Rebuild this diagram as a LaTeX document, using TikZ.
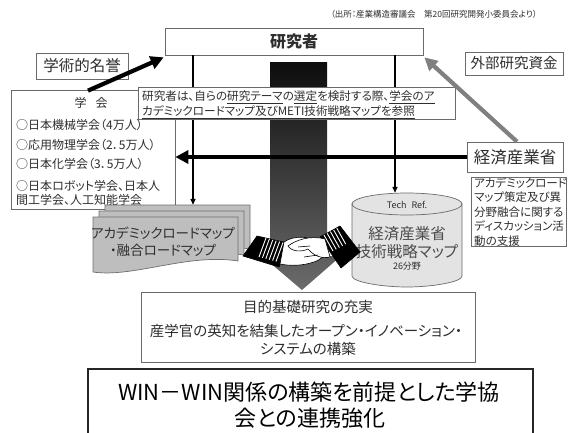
\documentclass[tikz,border=0pt]{standalone}
\usepackage{fontspec}
\setmainfont{Noto Sans CJK JP}[RawFeature={+palt}]
\usetikzlibrary{arrows.meta,calc}
\definecolor{ink}{HTML}{2E2E2E}
\definecolor{frame}{HTML}{6A6A6A}
\definecolor{sheet}{HTML}{BEBEBE}
\definecolor{sheetedge}{HTML}{6E6E6E}
\definecolor{drum}{HTML}{E3E3E3}
\definecolor{steel}{HTML}{808080}
% one sheet of the roadmap stack, top-left corner given
\newcommand\roadmapsheet[2]{%
  \filldraw[sheetstyle] (#1,#2) -- ++(145,0) -- ++(0,44)
    .. controls +(-50,-8) and +(40,6) .. ++(-145,11) -- cycle;}
\begin{document}
\begin{tikzpicture}[x=1pt,y=-1pt,
  box/.style={draw=frame, fill=white, line width=0.7pt, inner sep=0pt},
  txt/.style={inner sep=0pt, text=ink},
  sheetstyle/.style={fill=sheet, draw=sheetedge, line width=0.7pt},
  feed/.style={draw=black, line width=1.4pt, -{Triangle[length=6pt,width=5pt]}},
  heavy/.style={line width=4.2pt, -{Triangle[length=13pt,width=13pt]}},
]
\useasboundingbox (0,0) rectangle (571,432);
\clip (0,0) rectangle (571,432);

% source line
\node[txt, font=\fontsize{8.5}{10}\selectfont] (src) at (434,14)
  {（出所：産業構造審議会　第20回研究開発小委員会より）};

% shaded downward arrow in the middle
\shade[top color=black!95, bottom color=black!58]
  (270,62) -- (327,62) -- (327,256) -- (341,256) -- (302,290)
  -- (262,256) -- (270,256) -- cycle;

% researcher
\node[box, minimum width=258, minimum height=27, font=\fontsize{16}{18}\selectfont\bfseries, text=ink]
  (res) at (294,41.5) {研究者};

% helper nodes for the roadmap stack and the map drum
\node[minimum width=157, minimum height=67, inner sep=0pt] (rm) at (171.5,238.5) {};
\node[minimum width=110, minimum height=94, inner sep=0pt] (cyl) at (407,240) {};

\coordinate (tapL) at (res.south -| 193,0);
\coordinate (tapR) at (res.south -| 395,0);
\draw[feed] (tapL) -- (tapL |- rm.north);
\draw[feed] (tapR) -- (tapR |- cyl.north);

% academic societies
\node[box, minimum width=164, minimum height=119] (soc) at (93,149.5) {};
\node[txt, font=\fontsize{12}{14}\selectfont] (socT) at (91,103) {学\hspace{9pt}会};
\node[txt, anchor=west, font=\fontsize{12}{14}\selectfont] (soc1) at (16,125) {○日本機械学会（4万人）};
\node[txt, anchor=west, font=\fontsize{12}{14}\selectfont] (soc2) at (16,144.5) {○応用物理学会（2．5万人）};
\node[txt, anchor=west, font=\fontsize{12}{14}\selectfont] (soc3) at (16,164) {○日本化学会（3．5万人）};
\node[txt, anchor=west, font=\fontsize{12}{14}\selectfont] (soc4) at (16,186) {○日本ロボット学会、日本人};
\node[txt, anchor=west, font=\fontsize{12}{14}\selectfont] (soc5) at (16,200) {間工学会、人工知能学会};

% note about referencing the maps
\node[box, minimum width=317, minimum height=32] (note) at (296.5,103) {};
\node[txt, anchor=west, font=\fontsize{11.6}{13}\selectfont] (noteA) at (142,97)
  {研究者は、自らの\underline{研究テーマ}の\underline{選定}を検討する際、\underline{学会のア}};
\node[txt, anchor=west, font=\fontsize{11.6}{13}\selectfont] (noteB) at (142,112)
  {\underline{カデミックロードマップ及びMETI技術戦略マップを参照}};

% roadmap stack
\roadmapsheet{105}{205}
\roadmapsheet{99}{211}
\roadmapsheet{93}{217}
\node[txt, font=\fontsize{13.5}{15}\selectfont] (rm1) at (163,233) {アカデミックロードマップ};
\node[txt, font=\fontsize{13.5}{15}\selectfont] (rm2) at (163,250) {・融合ロードマップ};

% technology strategy map drum
\filldraw[fill=drum, draw=frame, line width=0.7pt]
  (352,204) -- (352,276) .. controls (352,282.1) and (382.4,287) .. (407,287)
  .. controls (431.6,287) and (462,282.1) .. (462,276) -- (462,204) -- cycle;
\filldraw[fill=drum, draw=frame, line width=0.7pt] (407,204) ellipse [x radius=55pt, y radius=11pt];
\node[txt, font=\fontsize{9}{10}\selectfont] (cylT) at (407,204.5) {Tech\hspace{5pt}Ref.};
\node[txt, font=\fontsize{15.5}{17}\selectfont, text=black!70] (cyl1) at (407,234) {経済産業省};
\node[txt, font=\fontsize{15.5}{17}\selectfont, text=black!70] (cyl2) at (407,252) {技術戦略マップ};
\node[txt, font=\fontsize{9}{10}\selectfont] (cyl3) at (407,266) {26分野};

% ministry, funding and honour
\node[box, minimum width=96, minimum height=30, font=\fontsize{16.5}{18}\selectfont, text=ink]
  (meti) at (515,157) {経済産業省};
\node[box, minimum width=98, minimum height=23, font=\fontsize{14.5}{16}\selectfont, text=ink]
  (fund) at (514,63.5) {外部研究資金};
\node[box, minimum width=92, minimum height=26, font=\fontsize{15.5}{17}\selectfont, text=ink]
  (honor) at (82,66) {学術的名誉};

\draw[heavy, black] (meti.west) -- (meti.west -| soc.east);
\draw[heavy, black] ($(soc.north)+(-5,1)$) -- ($(res.south west)+(-1,2)$);
\draw[heavy, steel] ($(meti.north)+(2,0)$) -- ($(res.south east)+(1,2)$);

% support note on the right
\node[box, minimum width=95, minimum height=69] (aid) at (518.5,211.5) {};
\node[txt, anchor=west, font=\fontsize{11.5}{13}\selectfont] (aid1) at (474,183) {アカデミックロード};
\node[txt, anchor=west, font=\fontsize{11.5}{13}\selectfont] (aid2) at (474,197.5) {マップ策定及び異};
\node[txt, anchor=west, font=\fontsize{11.5}{13}\selectfont] (aid3) at (474,212) {分野融合に関する};
\node[txt, anchor=west, font=\fontsize{11.5}{13}\selectfont] (aid4) at (474,226.5) {ディスカッション活};
\node[txt, anchor=west, font=\fontsize{11.5}{13}\selectfont] (aid5) at (474,241) {動の支援};

% handshake: two dark sleeves with striped cuffs, white hands clasped
\begin{scope}[line width=0.6pt, line join=round]
  \filldraw[fill=black, draw=black] (243,256) -- (257,236) -- (288,243) -- (279,267) -- cycle;
  \foreach \k in {0,...,5}
    \draw[white, line width=0.9pt] ($(266,238)+(\k*3.4,0.9*\k)$) -- ++(-7,19);
  \filldraw[fill=white, draw=black] (284,242) .. controls (294,235) and (310,236) .. (322,243)
    .. controls (330,248) and (326,258) .. (314,262)
    .. controls (302,266) and (290,266) .. (280,264) -- cycle;
  \filldraw[fill=black, draw=black] (320,237) -- (340,226) -- (360,252) -- (341,268) -- cycle;
  \foreach \k in {0,...,4}
    \draw[white, line width=0.9pt] ($(324,235)+(\k*3.2,-1.7*\k)$) -- ++(9,16);
  \filldraw[fill=white, draw=black] (325,239) .. controls (310,235) and (296,240) .. (288,246)
    .. controls (292,252) and (302,252) .. (308,249)
    .. controls (314,256) and (322,259) .. (330,257) -- cycle;
  \draw (298,247) -- (310,246);
  \draw (304,257) -- (318,255);
\end{scope}

% outcome
\node[box, minimum width=334, minimum height=70] (goal) at (308,327) {};
\node[txt, font=\fontsize{14.5}{16}\selectfont] (goal1) at (308,307) {目的基礎研究の充実};
\node[txt, font=\fontsize{14.5}{16}\selectfont] (goal2) at (306,331) {産学官の英知を結集したオープン・イノベーション・};
\node[txt, font=\fontsize{14.5}{16}\selectfont] (goal3) at (308,349) {システムの構築};

% conclusion
\node[box, draw=black!85, line width=1.6pt, minimum width=445, minimum height=80] (aim) at (310.5,409) {};
\node[txt, text=black, font=\fontsize{22}{24}\selectfont] (aim1) at (309,392) {WIN－WIN関係の構築を前提とした学協};
\node[txt, text=black, font=\fontsize{22}{24}\selectfont] (aim2) at (310,418) {会との連携強化};
\end{tikzpicture}
\end{document}
